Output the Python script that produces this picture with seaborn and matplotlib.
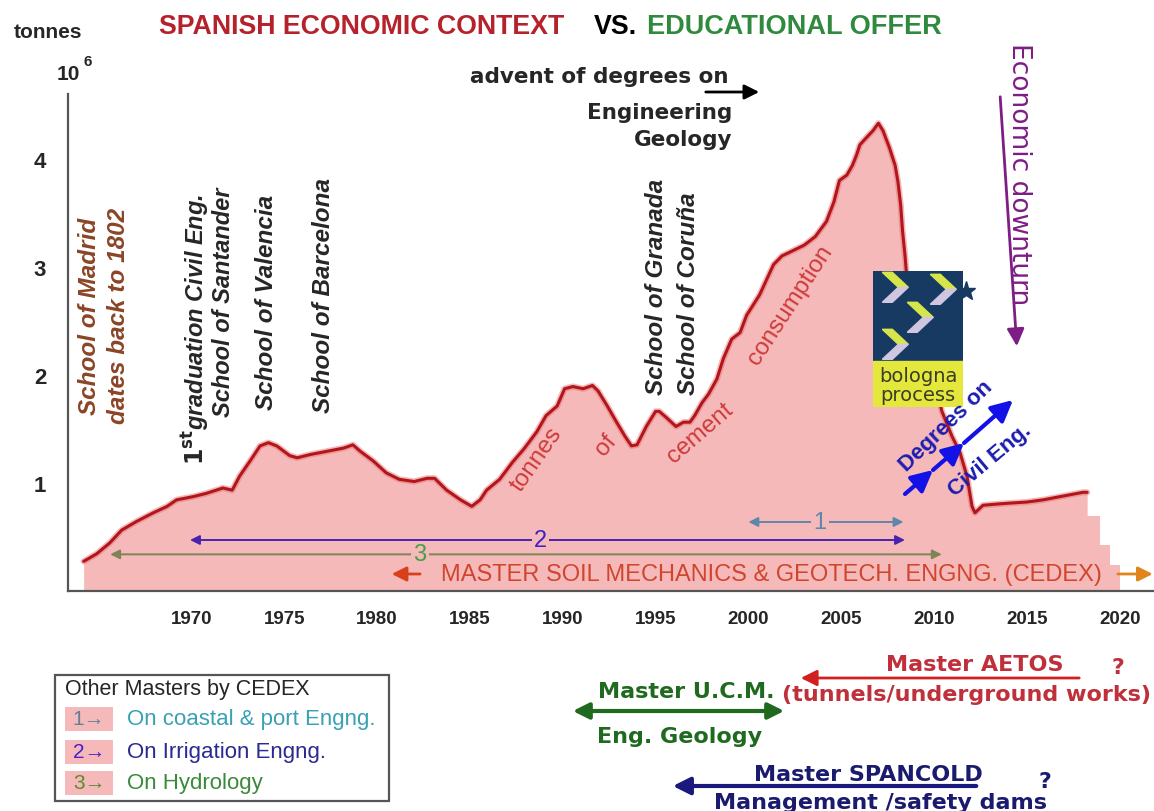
import matplotlib
matplotlib.use("Agg")
import matplotlib.pyplot as plt
from matplotlib.patches import Rectangle, Polygon, FancyArrowPatch
import seaborn as sns
import pandas as pd

# cement consumption in Spain, 10^6 tonnes
years = [1964.2, 1964.9, 1965.6, 1966.25, 1967.05, 1967.95, 1968.7, 1969.2, 1970.1, 1970.8,
         1971.7, 1972.2, 1972.6, 1973.2, 1973.7, 1974.15, 1974.6, 1975.3, 1975.7, 1976.4,
         1977.3, 1978.2, 1978.7, 1979.1, 1979.8, 1980.5, 1981.2, 1982.0, 1982.7, 1983.1,
         1983.75, 1984.5, 1985.1, 1985.55, 1985.9, 1986.6, 1987.3, 1987.9, 1988.6, 1989.1,
         1989.7, 1990.1, 1990.55, 1991.1, 1991.6, 1991.9, 1992.4, 1992.9, 1993.35, 1993.7,
         1994.0, 1994.5, 1995.0, 1995.2, 1995.6, 1996.1, 1996.5, 1996.85, 1997.1, 1997.5,
         1997.85, 1998.3, 1998.65, 1999.1, 1999.55, 1999.9, 2000.6, 2001.35, 2001.8, 2002.4,
         2003.0, 2003.6, 2004.2, 2004.6, 2004.9, 2005.3, 2005.6, 2005.83, 2006.0, 2006.37,
         2006.7, 2007.0, 2007.25, 2007.6, 2007.9, 2008.05, 2008.2, 2008.3, 2008.43, 2008.5,
         2009.5, 2010.42, 2010.96, 2011.39, 2011.77, 2012.04, 2012.2, 2012.63, 2013.3, 2014.08,
         2015.0, 2015.86, 2016.78, 2018.02, 2018.24]
cement = [0.27, 0.34, 0.44, 0.56, 0.64, 0.72, 0.78, 0.84, 0.87, 0.90,
          0.95, 0.93, 1.06, 1.21, 1.34, 1.37, 1.34, 1.25, 1.23, 1.26,
          1.29, 1.32, 1.35, 1.29, 1.20, 1.09, 1.03, 1.01, 1.04, 1.04,
          0.93, 0.84, 0.78, 0.84, 0.93, 1.03, 1.19, 1.31, 1.47, 1.62,
          1.71, 1.87, 1.89, 1.87, 1.90, 1.85, 1.71, 1.56, 1.43, 1.34,
          1.35, 1.52, 1.66, 1.66, 1.60, 1.52, 1.56, 1.56, 1.62, 1.74,
          1.82, 1.96, 2.15, 2.33, 2.39, 2.55, 2.74, 3.02, 3.10, 3.15,
          3.20, 3.28, 3.42, 3.60, 3.80, 3.85, 3.94, 4.04, 4.13, 4.20,
          4.26, 4.33, 4.26, 4.10, 3.94, 3.79, 3.57, 3.33, 3.11, 2.96,
          2.30, 1.66, 1.43, 1.28, 1.06, 0.78, 0.72, 0.79, 0.80, 0.81,
          0.82, 0.84, 0.87, 0.91, 0.91]

# fading steps at the end of the record
tail_years = [2018.24, 2018.94, 2019.48, 2020.02]
tail_values = [0.69, 0.42, 0.24, 0.24]

# other CEDEX masters (start year, end year)
master_ids = ["1", "2", "3"]
master_start = [2000.0, 1969.93, 1965.63]
master_end = [2008.35, 2008.43, 2010.41]

xtick_years = [1964.2, 1970, 1975, 1980, 1985, 1990, 1995, 2000, 2005, 2010, 2015, 2020]
xtick_labels = [""] + [str(y) for y in range(1970, 2021, 5)]
ytick_vals = [0.5, 1, 1.5, 2, 2.5, 3, 3.5, 4, 4.6]
ytick_labels = ["", "1", "", "2", "", "3", "", "4", ""]

legend_ids = ["1", "2", "3"]
legend_texts = ["On coastal & port Engng.", "On Irrigation Engng.", "On Hydrology"]

PINK = "#f5b9b9"
LINE = "#b3151c"

sns.set_theme(style="white")
plt.rcParams["font.family"] = ["Liberation Sans", "DejaVu Sans"]

W, H = 1154, 812
fig = plt.figure(figsize=(W / 100, H / 100), dpi=100)


def fp(x, y):
    return (x / W, 1 - y / H)


ax = fig.add_axes([68.4 / W, 1 - 591.5 / H, (W - 68.4) / W, (591.5 - 95.1) / H])
ax.set_facecolor("white")

df = pd.DataFrame({"year": years, "cement": cement})
ax.fill_between(df["year"], df["cement"], color=PINK, lw=0, zorder=1)
ax.fill_between(tail_years, tail_values, step="post", color=PINK, lw=0, zorder=1)
sns.lineplot(data=df, x="year", y="cement", ax=ax, color="#e36a6a", lw=4.5,
             alpha=0.45, sort=False, zorder=2)
sns.lineplot(data=df, x="year", y="cement", ax=ax, color=LINE, lw=2.2,
             sort=False, zorder=3)

ax.set_xlim(1963.38, 2021.84)
ax.set_ylim(0, 4.6)
ax.set_xlabel("")
ax.set_ylabel("")
ax.set_xticks(xtick_years)
ax.set_xticklabels(xtick_labels, fontsize=13.5, fontweight="bold")
ax.set_yticks(ytick_vals)
ax.set_yticklabels(ytick_labels, fontsize=16, fontweight="bold")
ax.tick_params(axis="x", direction="inout", length=8, width=1.3, color="#444444", pad=10)
ax.tick_params(axis="y", direction="inout", length=8, width=1.3, color="#444444", pad=12)
for s in ["top", "right"]:
    ax.spines[s].set_visible(False)
for s in ["left", "bottom"]:
    ax.spines[s].set_color("#555555")
    ax.spines[s].set_linewidth(1.6)

# ranges of the other CEDEX masters
levels = [0.635, 0.468, 0.335]
line_cols = ["#5f87a8", "#4b22b0", "#7d8456"]
label_cols = ["#5f87a8", "#3a22c8", "#45a045"]
label_x = [2003.85, 1988.8, 1982.32]
for i in range(3):
    ax.annotate("", xy=(master_start[i], levels[i]), xytext=(master_end[i], levels[i]),
                arrowprops=dict(arrowstyle="<|-|>", color=line_cols[i], lw=1.4,
                                mutation_scale=14, shrinkA=0, shrinkB=0), zorder=4)
    ax.text(label_x[i], levels[i], master_ids[i], color=label_cols[i], fontsize=17,
            ha="center", va="center", zorder=5,
            bbox=dict(facecolor=PINK, edgecolor="none", pad=1.5))

ax.text(2001.22, 0.15, "MASTER SOIL MECHANICS & GEOTECH. ENGNG. (CEDEX)", color="#d0452e",
        fontsize=17, ha="center", va="center", zorder=5)
ax.annotate("", xy=(1980.79, 0.153), xytext=(1982.32, 0.153),
            arrowprops=dict(arrowstyle="-|>", color="#d8401a", lw=2, mutation_scale=22,
                            shrinkA=0, shrinkB=0), annotation_clip=False)
ax.annotate("", xy=(2021.77, 0.153), xytext=(2019.89, 0.153),
            arrowprops=dict(arrowstyle="-|>", color="#e0841c", lw=2, mutation_scale=22,
                            shrinkA=0, shrinkB=0), annotation_clip=False)

# title and axis unit
fig.text(*fp(159, 27), "SPANISH ECONOMIC CONTEXT", color="#b5222c", fontsize=19.3,
         fontweight="bold", ha="left", va="center")
fig.text(*fp(594, 27), "VS.", color="black", fontsize=19.3, fontweight="bold",
         ha="left", va="center")
fig.text(*fp(647, 27), "EDUCATIONAL OFFER", color="#2f8a3e", fontsize=19.5,
         fontweight="bold", ha="left", va="center")
fig.text(*fp(48, 32), "tonnes", fontsize=15, fontweight="bold", ha="center", va="center")
fig.text(*fp(68, 74), "10", fontsize=15, fontweight="bold", ha="center", va="center")
fig.text(*fp(88, 62), "6", fontsize=11, fontweight="bold", ha="center", va="center")

# schools, vertical
vt = dict(rotation=90, rotation_mode="anchor", va="center", fontsize=17.5,
          fontweight="bold", fontstyle="italic")
fig.text(*fp(90, 316), "School of Madrid", color="#8a4526", ha="center", **vt)
fig.text(*fp(118.5, 316), "dates back to 1802", color="#8a4526", ha="center", **vt)
fig.text(*fp(195, 465), r"$\mathbf{1^{st}}$graduation Civil Eng.", ha="left",
         **{**vt, "fontsize": 17})
fig.text(*fp(223, 417), "School of Santander", ha="left", **{**vt, "fontsize": 17})
fig.text(*fp(266.5, 410), "School of Valencia", ha="left", **vt)
fig.text(*fp(323.5, 413), "School of Barcelona", ha="left", **vt)
fig.text(*fp(656.5, 395), "School of Granada", ha="left", **vt)
fig.text(*fp(688.5, 395), "School of Coruña", ha="left", **vt)

# advent of degrees
adv = dict(fontsize=15.5, fontweight="bold", family="DejaVu Sans", ha="right", va="center")
fig.text(*fp(728, 77), "advent of degrees on", **adv)
fig.text(*fp(732, 113), "Engineering", **adv)
fig.text(*fp(732, 140), "Geology", **adv)
fig.patches.append(FancyArrowPatch(fp(703, 93), fp(762, 93), transform=fig.transFigure,
                                   arrowstyle="-|>", mutation_scale=22, lw=2, color="black"))

# economic downturn
fig.text(*fp(1019, 43), "Economic downturn", color="#7d1d85", fontsize=19,
         family="DejaVu Sans", rotation=270, rotation_mode="anchor", ha="left", va="center")
fig.patches.append(FancyArrowPatch(fp(1000, 95), fp(1017, 350), transform=fig.transFigure,
                                   arrowstyle="-|>", mutation_scale=26, lw=2, color="#7d1d85"))

# curve caption
cap = dict(color="#cf3a3a", fontsize=17.5, ha="center", va="center")
fig.text(*fp(537, 460), "tonnes", rotation=55, **cap)
fig.text(*fp(606, 445), "of", rotation=50, **cap)
fig.text(*fp(700, 433), "cement", rotation=41, **cap)
fig.text(*fp(790, 305), "consumption", rotation=57, **cap)

# degrees on civil eng.
fig.text(*fp(946, 427), "Degrees on", color="#1c1cb0", fontsize=16, fontweight="bold",
         rotation=44, ha="center", va="center")
fig.text(*fp(990, 460), "Civil Eng.", color="#1c1cb0", fontsize=16, fontweight="bold",
         rotation=40, ha="center", va="center")
pts = [(905, 495), (933, 471), (964, 444), (1013, 401)]
for a, b in zip(pts[:-1], pts[1:]):
    fig.patches.append(FancyArrowPatch(fp(*a), fp(*b), transform=fig.transFigure,
                                       arrowstyle="-|>", mutation_scale=32, lw=3,
                                       color="#1212e6", shrinkA=0, shrinkB=0))

# bologna process logo
lax = fig.add_axes([873.3 / W, 1 - 408.3 / H, 90 / W, 136.6 / H])
lax.set_xlim(0, 90)
lax.set_ylim(0, 136.6)
lax.axis("off")
lax.add_patch(Rectangle((0, 46.6), 90, 90, color="#173a63"))
lax.add_patch(Rectangle((0, 0), 90, 46.6, color="#e4e83c"))
for cx, cy in [(22, 120), (70, 118), (47, 90), (22, 63)]:
    w, h, t = 26, 30, 10
    lax.add_patch(Polygon([(cx - w / 2, cy + h / 2), (cx - w / 2 + t, cy + h / 2),
                           (cx + w / 2, cy), (cx + w / 2 - t, cy)], color="#d6e64a"))
    lax.add_patch(Polygon([(cx + w / 2 - t, cy), (cx + w / 2, cy),
                           (cx - w / 2 + t, cy - h / 2), (cx - w / 2, cy - h / 2)], color="#cfc6e0"))
lax.plot([93], [116], marker="*", ms=14, color="#173a63", clip_on=False)
lax.text(45, 32, "bologna", color="#3c3c28", fontsize=14, family="DejaVu Sans", ha="center", va="center")
lax.text(45, 13, "process", color="#3c3c28", fontsize=14, family="DejaVu Sans", ha="center", va="center")

# legend box
fig.patches.append(Rectangle(fp(55, 802), 334 / W, 126 / H, transform=fig.transFigure,
                             facecolor="white", edgecolor="#555555", lw=1.6))
fig.text(*fp(65, 690), "Other Masters by CEDEX", fontsize=15.5, ha="left", va="center")
row_y = [720, 752.5, 783.5]
num_cols = ["#5f7f9a", "#4a20c8", "#5a8a30"]
txt_cols = ["#3aa0b4", "#2a2a90", "#3a8a3a"]
for i in range(3):
    fig.patches.append(Rectangle(fp(65, row_y[i] + 12), 48 / W, 24 / H,
                                 transform=fig.transFigure, color=PINK, lw=0))
    fig.text(*fp(89, row_y[i]), legend_ids[i] + "\u2192", color=num_cols[i], fontsize=15,
             ha="center", va="center")
    fig.text(*fp(127, row_y[i]), legend_texts[i], color=txt_cols[i], fontsize=16,
             ha="left", va="center")

# other masters below the chart
bt = dict(fontsize=16, fontweight="bold", family="DejaVu Sans", ha="center", va="center")
fig.text(*fp(975, 665), "Master AETOS", color="#c0303a", **bt)
fig.text(*fp(1118, 668), "?", color="#c0303a", **bt)
fig.text(*fp(967, 695), "(tunnels/underground works)", color="#c0303a", **bt)
fig.patches.append(FancyArrowPatch(fp(1082, 679), fp(798, 679), transform=fig.transFigure,
                                   arrowstyle="-|>", mutation_scale=24, lw=2, color="#d02020"))
fig.text(*fp(686, 692), "Master U.C.M.", color="#1f6a1f", **bt)
fig.text(*fp(680, 737), "Eng. Geology", color="#1f6a1f", **bt)
fig.patches.append(FancyArrowPatch(fp(570, 712), fp(787, 712), transform=fig.transFigure,
                                   arrowstyle="<|-|>", mutation_scale=24, lw=3, color="#1f6a1f"))
fig.text(*fp(868, 775), "Master SPANCOLD", color="#1a1a6e", **bt)
fig.text(*fp(1045, 782), "?", color="#1a1a6e", **bt)
fig.text(*fp(881, 803), "Management /safety dams", color="#1a1a6e", **bt)
fig.patches.append(FancyArrowPatch(fp(979, 787), fp(670, 787), transform=fig.transFigure,
                                   arrowstyle="-|>", mutation_scale=26, lw=3, color="#1a1a7e"))

fig.savefig("out.png", dpi=100)
